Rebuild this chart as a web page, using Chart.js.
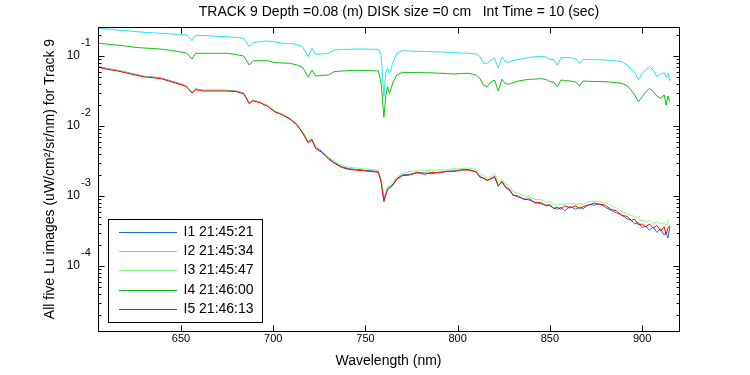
<!DOCTYPE html>
<html>
<head>
<meta charset="utf-8">
<title>TRACK 9 Lu spectra</title>
<script src="https://cdn.jsdelivr.net/npm/chart.js@4.4.0/dist/chart.umd.min.js"></script>
<style>
    html, body { margin: 0; padding: 0; background: #fff; }
</style>
</head>
<body>
<canvas id="luChart" width="750" height="375"></canvas>
<script>
// Global font settings
const FONT = "'Liberation Sans', Arial, sans-serif";
Chart.defaults.font.family = FONT;
Chart.defaults.color = '#000';

// Texts
const TITLE = 'TRACK 9 Depth =0.08 (m) DISK size =0 cm   Int Time = 10 (sec)';
const X_TITLE = 'Wavelength (nm)';
const Y_TITLE = 'All five Lu images (uW/cm\u00B2/sr/nm) for Track 9';
const LEGEND_LABELS = ['I1 21:45:21', 'I2 21:45:34', 'I3 21:45:47', 'I4 21:46:00', 'I5 21:46:13'];

// Axis ticks
const X_TICKS = [650, 700, 750, 800, 850, 900];
const Y_DECADES = [1e-4, 1e-3, 1e-2, 1e-1];

// Wavelength grid (nm), shared by all five spectra
const WAVELENGTH = [
    605, 610, 615, 620, 625, 630, 635, 640, 645, 650,
    653, 656, 658, 662, 666, 670, 675, 680, 684, 687,
    689, 693, 697, 701, 705, 709, 713, 716, 719, 721,
    723, 726, 730, 733, 737, 741, 745, 749, 753, 757,
    758.5, 760, 761, 762, 763, 765, 767, 770, 774, 778,
    782, 786, 790, 794, 798, 802, 806, 810, 812, 814,
    816, 818, 820, 822, 824, 826, 828, 830, 833, 836,
    839, 842, 845, 848, 850, 852, 854, 856, 858, 861,
    864, 866, 868, 871, 874, 877, 880, 883, 886, 889,
    892, 894, 896, 898, 900, 902, 904, 906, 908, 910,
    912, 913, 914, 915
];

// log10 of Lu
const LOG_I1 = [
    -1.15, -1.18, -1.20, -1.23, -1.26, -1.29, -1.30, -1.32, -1.36, -1.40,
    -1.43, -1.52, -1.47, -1.49, -1.49, -1.49, -1.49, -1.50, -1.53, -1.67,
    -1.63, -1.66, -1.71, -1.79, -1.84, -1.90, -1.98, -2.10, -2.23, -2.19,
    -2.31, -2.36, -2.46, -2.52, -2.58, -2.61, -2.62, -2.63, -2.64, -2.65,
    -2.78, -3.05, -2.97, -2.90, -2.87, -2.83, -2.75, -2.70, -2.69, -2.67,
    -2.67, -2.68, -2.66, -2.65, -2.64, -2.63, -2.62, -2.66, -2.72, -2.75,
    -2.77, -2.76, -2.73, -2.85, -2.80, -2.88, -2.92, -2.98, -3.02, -3.04,
    -3.06, -3.09, -3.11, -3.13, -3.14, -3.17, -3.19, -3.16, -3.21, -3.15,
    -3.19, -3.16, -3.18, -3.12, -3.13, -3.11, -3.16, -3.20, -3.24, -3.27,
    -3.33, -3.34, -3.40, -3.38, -3.45, -3.43, -3.49, -3.44, -3.52, -3.47,
    -3.56, -3.52, -3.60, -3.44
];
const LOG_I2 = [
    -0.604, -0.614, -0.629, -0.636, -0.650, -0.661, -0.669, -0.676, -0.686, -0.693,
    -0.700, -0.781, -0.704, -0.707, -0.714, -0.719, -0.724, -0.736, -0.747, -0.867,
    -0.810, -0.793, -0.786, -0.800, -0.819, -0.819, -0.836, -0.871, -1.010, -0.890,
    -0.976, -0.971, -0.961, -0.914, -0.907, -0.904, -0.900, -0.900, -0.903, -0.904,
    -0.986, -1.581, -1.247, -1.176, -1.247, -1.086, -0.961, -0.924, -0.929, -0.933,
    -0.936, -0.939, -0.943, -0.947, -0.953, -0.957, -0.961, -0.971, -1.007, -1.104,
    -1.104, -1.057, -1.033, -1.171, -1.019, -1.086, -1.086, -1.067, -1.050, -1.036,
    -1.019, -1.011, -1.004, -1.014, -1.047, -1.050, -1.129, -1.024, -1.021, -1.024,
    -1.036, -1.104, -1.047, -1.050, -1.053, -1.054, -1.057, -1.064, -1.071, -1.081,
    -1.129, -1.186, -1.229, -1.343, -1.247, -1.200, -1.153, -1.200, -1.296, -1.257,
    -1.239, -1.304, -1.247, -1.357
];
const LOG_I3 = [
    -1.155, -1.185, -1.205, -1.235, -1.265, -1.29, -1.305, -1.325, -1.365, -1.405,
    -1.435, -1.52, -1.47, -1.49, -1.49, -1.49, -1.495, -1.505, -1.535, -1.665,
    -1.63, -1.66, -1.71, -1.785, -1.83, -1.885, -1.97, -2.08, -2.21, -2.17,
    -2.29, -2.34, -2.44, -2.50, -2.56, -2.59, -2.60, -2.61, -2.62, -2.63,
    -2.77, -3.00, -2.95, -2.87, -2.86, -2.80, -2.73, -2.68, -2.65, -2.64,
    -2.64, -2.63, -2.63, -2.62, -2.61, -2.61, -2.60, -2.62, -2.69, -2.71,
    -2.74, -2.72, -2.68, -2.81, -2.76, -2.83, -2.86, -2.94, -2.96, -3.00,
    -3.01, -3.05, -3.05, -3.09, -3.08, -3.12, -3.13, -3.11, -3.12, -3.10,
    -3.12, -3.11, -3.12, -3.08, -3.07, -3.08, -3.09, -3.14, -3.17, -3.22,
    -3.25, -3.28, -3.29, -3.34, -3.35, -3.37, -3.35, -3.39, -3.37, -3.40,
    -3.38, -3.42, -3.36, -3.34
];
const LOG_I4 = [
    -0.819, -0.829, -0.843, -0.857, -0.876, -0.886, -0.893, -0.904, -0.921, -0.943,
    -0.957, -1.043, -0.961, -0.961, -0.961, -0.961, -0.961, -0.979, -1.000, -1.129,
    -1.067, -1.067, -1.067, -1.096, -1.100, -1.104, -1.129, -1.164, -1.304, -1.200,
    -1.286, -1.279, -1.271, -1.224, -1.214, -1.210, -1.204, -1.207, -1.211, -1.214,
    -1.386, -1.876, -1.581, -1.439, -1.533, -1.371, -1.271, -1.233, -1.236, -1.237,
    -1.239, -1.240, -1.246, -1.251, -1.257, -1.250, -1.247, -1.271, -1.319, -1.414,
    -1.439, -1.371, -1.343, -1.500, -1.333, -1.400, -1.400, -1.381, -1.357, -1.343,
    -1.333, -1.329, -1.324, -1.336, -1.367, -1.371, -1.439, -1.343, -1.350, -1.357,
    -1.371, -1.429, -1.357, -1.361, -1.364, -1.366, -1.367, -1.374, -1.381, -1.390,
    -1.429, -1.486, -1.557, -1.653, -1.581, -1.514, -1.461, -1.510, -1.571, -1.604,
    -1.557, -1.700, -1.571, -1.653
];
const LOG_I5 = [
    -1.16, -1.19, -1.21, -1.24, -1.27, -1.30, -1.31, -1.33, -1.37, -1.41,
    -1.44, -1.53, -1.48, -1.50, -1.50, -1.50, -1.50, -1.51, -1.54, -1.68,
    -1.64, -1.67, -1.72, -1.80, -1.84, -1.90, -1.99, -2.10, -2.24, -2.20,
    -2.32, -2.37, -2.47, -2.53, -2.59, -2.62, -2.63, -2.64, -2.65, -2.66,
    -2.80, -3.08, -2.99, -2.91, -2.89, -2.84, -2.76, -2.71, -2.70, -2.66,
    -2.69, -2.66, -2.67, -2.645, -2.65, -2.625, -2.63, -2.65, -2.73, -2.74,
    -2.78, -2.75, -2.72, -2.86, -2.79, -2.87, -2.90, -2.99, -3.00, -3.05,
    -3.04, -3.10, -3.09, -3.14, -3.12, -3.18, -3.16, -3.19, -3.14, -3.17,
    -3.14, -3.18, -3.15, -3.13, -3.10, -3.12, -3.13, -3.19, -3.21, -3.28,
    -3.29, -3.35, -3.33, -3.41, -3.40, -3.44, -3.40, -3.46, -3.42, -3.50,
    -3.44, -3.55, -3.46, -3.42
];

const SERIES_LOG = [LOG_I1, LOG_I2, LOG_I3, LOG_I4, LOG_I5];
const SERIES_COLORS = ['#1a6fdf', '#22e6ee', '#80ff80', '#10c010', '#ff0000'];

// Turn a log10 series into {x, y} points on the wavelength grid
function toPoints(logValues) {
    return WAVELENGTH.map((w, i) => ({ x: w, y: Math.pow(10, logValues[i]) }));
}

// MATLAB-like frame: box, inward ticks, exponents, title and legend
const matlabFrame = {
    id: 'matlabFrame',
    afterDraw(chart) {
        const { ctx, chartArea: a, scales: { x, y } } = chart;
        const L = Math.round(a.left) + 0.5;
        const R = Math.round(a.right) + 0.5;
        const T = Math.round(a.top) + 0.5;
        const B = Math.round(a.bottom) + 0.5;

        ctx.save();
        ctx.strokeStyle = '#000';
        ctx.lineWidth = 1;
        ctx.strokeRect(L, T, R - L, B - T);

        ctx.beginPath();
        X_TICKS.forEach(v => {
            const px = Math.round(x.getPixelForValue(v)) + 0.5;
            ctx.moveTo(px, B); ctx.lineTo(px, B - 6);
            ctx.moveTo(px, T); ctx.lineTo(px, T + 6);
        });
        for (let k = -5; k <= -1; k++) {
            for (let m = 1; m <= 9; m++) {
                const v = m * Math.pow(10, k);
                if (v < y.min || v > y.max) continue;
                const py = Math.round(y.getPixelForValue(v)) + 0.5;
                const len = m === 1 ? 6 : 3;
                ctx.moveTo(L, py); ctx.lineTo(L + len, py);
                ctx.moveTo(R, py); ctx.lineTo(R - len, py);
            }
        }
        ctx.stroke();

        // exponents of the "10" tick labels
        ctx.fillStyle = '#000';
        ctx.font = '11px ' + FONT;
        ctx.textAlign = 'left';
        ctx.textBaseline = 'middle';
        Y_DECADES.forEach(v => {
            const py = y.getPixelForValue(v);
            ctx.fillText(String(Math.round(Math.log10(v))), a.left - 17, py - 13);
        });

        // title
        ctx.font = '14px ' + FONT;
        ctx.textAlign = 'center';
        ctx.fillText(TITLE, 399, 12);

        // legend box
        const box = { x: 108.5, y: 219.5, w: 154, h: 103 };
        ctx.fillStyle = '#fff';
        ctx.fillRect(box.x, box.y, box.w, box.h);
        ctx.strokeRect(box.x, box.y, box.w, box.h);
        ctx.textAlign = 'left';
        LEGEND_LABELS.forEach((label, i) => {
            const ly = Math.round(231.7 + i * 19.3) + 0.5;
            ctx.strokeStyle = SERIES_COLORS[i];
            ctx.beginPath();
            ctx.moveTo(119, ly);
            ctx.lineTo(177, ly);
            ctx.stroke();
            ctx.fillStyle = '#000';
            ctx.fillText(label, 183.5, ly);
        });
        ctx.restore();
    }
};

new Chart(document.getElementById('luChart'), {
    type: 'line',
    data: {
        datasets: SERIES_LOG.map((s, i) => ({
            label: LEGEND_LABELS[i],
            data: toPoints(s),
            borderColor: SERIES_COLORS[i],
            backgroundColor: SERIES_COLORS[i],
            borderWidth: 1,
            pointRadius: 0,
            fill: false,
            tension: 0,
            order: 5 - i  // I5 drawn on top
        }))
    },
    options: {
        responsive: false,
        animation: false,
        devicePixelRatio: 1,
        events: [],
        layout: { padding: { top: 27, right: 71, bottom: 0, left: 0 } },
        plugins: {
            legend: { display: false },
            title: { display: false },
            tooltip: { enabled: false }
        },
        scales: {
            x: {
                type: 'linear',
                min: 605,
                max: 920,
                afterBuildTicks: s => { s.ticks = X_TICKS.map(v => ({ value: v })); },
                afterFit: s => { s.height = 44; },
                grid: { display: false, drawTicks: false },
                border: { display: false },
                ticks: { padding: 1, font: { size: 11 }, maxRotation: 0, autoSkip: false },
                title: { display: true, text: X_TITLE, font: { size: 14 }, padding: { top: 0, bottom: 5.5 } }
            },
            y: {
                type: 'logarithmic',
                min: 1.18e-5,
                max: 0.2596,
                afterBuildTicks: s => { s.ticks = Y_DECADES.map(v => ({ value: v })); },
                afterFit: s => { s.width = 98; },
                grid: { display: false, drawTicks: false },
                border: { display: false },
                ticks: { padding: 18, font: { size: 12 }, callback: () => '10' },
                title: { display: true, text: Y_TITLE, font: { size: 14 }, padding: { top: 41.6, bottom: 0 } }
            }
        }
    },
    plugins: [matlabFrame]
});
</script>
</body>
</html>
